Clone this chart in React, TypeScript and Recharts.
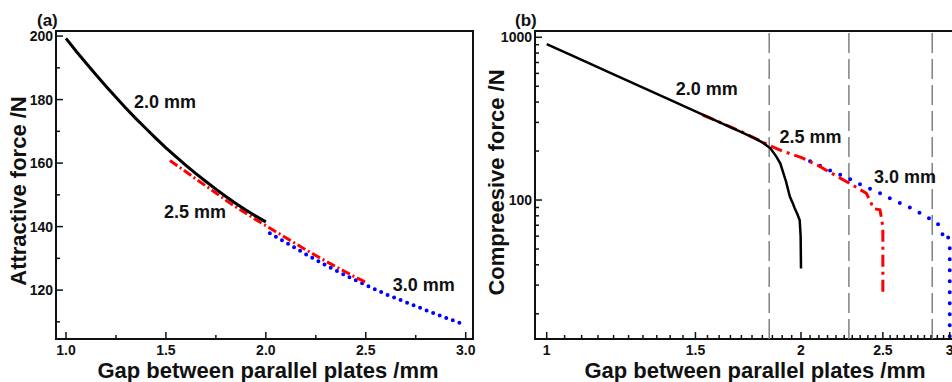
import React from 'react';
import { LineChart, Line, XAxis, YAxis, ReferenceLine, ReferenceArea, ReferenceDot } from 'recharts';

const FONT = '"Liberation Sans", Arial, Helvetica, sans-serif';

// ---------- Panel (a): attractive force ----------
const aGap20 = [1.0, 1.05, 1.1, 1.15, 1.2, 1.25, 1.3, 1.35, 1.4, 1.45, 1.5, 1.55, 1.6, 1.65, 1.7, 1.75, 1.8, 1.85, 1.9, 1.95, 2.0];
const aForce20 = [199.3, 195.3, 191.5, 187.8, 184.2, 180.7, 177.3, 174.0, 170.9, 167.8, 164.8, 162.0, 159.3, 156.7, 154.2, 151.8, 149.5, 147.3, 145.2, 143.3, 141.5];
const aGap25 = [1.52, 1.55, 1.6, 1.65, 1.7, 1.75, 1.8, 1.85, 1.9, 1.95, 2.0, 2.05, 2.1, 2.15, 2.2, 2.25, 2.3, 2.35, 2.4, 2.45, 2.5];
const aForce25 = [160.8, 159.5, 157.3, 155.0, 152.8, 150.6, 148.3, 146.2, 144.2, 142.2, 140.3, 138.4, 136.5, 134.6, 132.7, 130.9, 129.1, 127.4, 125.7, 124.0, 122.5];
const aGap30 = [2.02, 2.1, 2.2, 2.3, 2.4, 2.5, 2.6, 2.7, 2.8, 2.9, 3.0];
const aForce30 = [137.9, 135.0, 131.3, 127.8, 124.6, 121.6, 118.7, 116.2, 113.7, 111.3, 109.0];

const aXTicks = [1.0, 1.25, 1.5, 1.75, 2.0, 2.25, 2.5, 2.75, 3.0];
const aXMajor = [1.0, 1.5, 2.0, 2.5, 3.0];
const aXLabels = ['1.0', '1.5', '2.0', '2.5', '3.0'];
const aYTicks = [110, 120, 130, 140, 150, 160, 170, 180, 190, 200];
const aYMajor = [120, 140, 160, 180, 200];
const aYLabels = ['120', '140', '160', '180', '200'];

// ---------- Panel (b): compressive force ----------
const bGap20 = [1.0, 1.1, 1.2, 1.3, 1.4, 1.5, 1.6, 1.7, 1.76, 1.8, 1.84, 1.87, 1.89, 1.92, 1.94, 1.955, 1.966, 1.98, 1.993, 1.998, 2.0];
const bForce20 = [909, 727, 592, 491, 412, 351, 301, 261, 240, 226, 208, 185, 168, 130, 105, 96, 89, 82, 75, 60, 38];
const bGap25 = [1.53, 1.6, 1.7, 1.8, 1.83, 1.9, 2.0, 2.1, 2.2, 2.265, 2.33, 2.39, 2.43, 2.44, 2.48, 2.49, 2.5, 2.5];
const bForce25 = [333, 302, 263, 228, 218, 200, 183, 162, 141, 129.5, 119, 110, 92, 88.5, 87, 78, 68, 27];
const bGap30 = [2.05, 2.12, 2.184, 2.25, 2.307, 2.37, 2.436, 2.5, 2.561, 2.63, 2.704, 2.78, 2.856, 2.9, 2.922, 2.948, 2.975, 2.99, 3.0, 3.0];
const bForce30 = [173, 160, 149, 140, 131, 122, 115, 108, 101, 95, 89, 82, 75.4, 72, 68, 59.5, 62, 58, 51.6, 12];
const bTransitions = [1.834, 2.279, 2.86];

const bXTicks = [1.0, 1.05, 1.1, 1.15, 1.2, 1.25, 1.3, 1.35, 1.4, 1.45, 1.5, 1.55, 1.6, 1.65, 1.7, 1.75, 1.8, 1.85, 1.9, 1.95, 2.0, 2.05, 2.1, 2.15, 2.2, 2.25, 2.3, 2.35, 2.4, 2.45, 2.5, 2.55, 2.6, 2.65, 2.7, 2.75, 2.8, 2.85, 2.9, 2.95, 3.0];
const bXMajor = [1.0, 1.5, 2.0, 2.5, 3.0];
const bXLabels = ['1', '1.5', '2', '2.5', '3'];
const bYTicks = [20, 30, 40, 50, 60, 70, 80, 90, 100, 200, 300, 400, 500, 600, 700, 800, 900, 1000];
const bYMajor = [100, 1000];
const bYLabels = ['100', '1000'];

type Pt = { x: number; y: number };
const zip = (xs: number[], ys: number[]): Pt[] => xs.map((x, i) => ({ x, y: ys[i] }));

const a20 = zip(aGap20, aForce20);
const a25 = zip(aGap25, aForce25);
const a30 = zip(aGap30, aForce30);
const b20 = zip(bGap20, bForce20);
const b25 = zip(bGap25, bForce25);
const b30 = zip(bGap30, bForce30);

const INK = '#111';

const findMajor = (majors: number[], v: number) => majors.findIndex((m) => Math.abs(m - v) < 1e-6);

const makeXTick = (majors: number[], labels: string[]) => (props: any) => {
  const { x, y, payload } = props;
  const i = findMajor(majors, payload.value);
  const major = i >= 0;
  return (
    <g>
      <line x1={x} y1={y} x2={x} y2={y - (major ? 7 : 4)} stroke={INK} strokeWidth={1.5} />
      {major && (
        <text x={x} y={y + 16} textAnchor="middle" fontSize={14} fontWeight="bold" fontFamily={FONT} fill={INK}>
          {labels[i]}
        </text>
      )}
    </g>
  );
};

const makeYTick = (majors: number[], labels: string[]) => (props: any) => {
  const { x, y, payload } = props;
  const i = findMajor(majors, payload.value);
  const major = i >= 0;
  return (
    <g>
      <line x1={x} y1={y} x2={x + (major ? 7 : 4)} y2={y} stroke={INK} strokeWidth={1.5} />
      {major && (
        <text x={x - 3} y={y + 5} textAnchor="end" fontSize={14} fontWeight="bold" fontFamily={FONT} fill={INK}>
          {labels[i]}
        </text>
      )}
    </g>
  );
};

const xTitle = (text: string, dx: number) => (props: any) => {
  const vb = props.viewBox || { x: 0, y: 0, width: 0, height: 0 };
  return (
    <text x={vb.x + vb.width / 2 + dx} y={378} textAnchor="middle" fontSize={22} fontWeight="bold" fontFamily={FONT} fill={INK}>
      {text}
    </text>
  );
};

const yTitle = (text: string, cxOff: number, cyOff: number) => (props: any) => {
  const vb = props.viewBox || { x: 0, y: 0, width: 0, height: 0 };
  const cx = vb.x + cxOff;
  const cy = vb.y + cyOff;
  return (
    <text
      x={cx}
      y={cy}
      transform={`rotate(-90, ${cx}, ${cy})`}
      textAnchor="middle"
      dominantBaseline="central"
      fontSize={22}
      fontWeight="bold"
      fontFamily={FONT}
      fill={INK}
    >
      {text}
    </text>
  );
};

const annot = (value: string) => ({ value, position: 'center' as const, fontSize: 18, fontWeight: 'bold', fill: INK, fontFamily: FONT });

const aXTick = makeXTick(aXMajor, aXLabels);
const aYTick = makeYTick(aYMajor, aYLabels);
const bXTick = makeXTick(bXMajor, bXLabels);
const bYTick = makeYTick(bYMajor, bYLabels);

const A_X: [number, number] = [0.95, 3.0365];
const A_Y: [number, number] = [104.6, 201.6];
const B_X: [number, number] = [0.9686, 3.085];
const B_Y: [number, number] = [14, 1093];

const panelLabel: React.CSSProperties = {
  position: 'absolute',
  top: 12,
  fontSize: 17,
  fontWeight: 'bold',
  lineHeight: '17px',
  fontFamily: FONT,
  color: INK,
};

export default function App() {
  return (
    <div style={{ position: 'fixed', left: 0, top: 0, width: 952, height: 382, overflow: 'hidden', background: '#fff' }}>
      <div style={{ ...panelLabel, left: 37 }}>(a)</div>
      <div style={{ ...panelLabel, left: 515 }}>(b)</div>

      <div style={{ position: 'absolute', left: 0, top: 0 }}>
        <LineChart width={480} height={382} margin={{ top: 31, right: 7, bottom: 0, left: 0 }}>
          <XAxis
            dataKey="x"
            type="number"
            domain={A_X}
            allowDataOverflow
            ticks={aXTicks}
            interval={0}
            tickSize={0}
            tickMargin={0}
            tick={aXTick}
            axisLine={false}
            tickLine={false}
            height={43}
            label={xTitle('Gap between parallel plates /mm', 3.5)}
          />
          <YAxis
            type="number"
            domain={A_Y}
            allowDataOverflow
            ticks={aYTicks}
            interval={0}
            tickSize={0}
            tickMargin={0}
            tick={aYTick}
            axisLine={false}
            tickLine={false}
            width={56}
            label={yTitle('Attractive force /N', 18.5, 160)}
          />
          <ReferenceArea x1={A_X[0]} x2={A_X[1]} y1={A_Y[0]} y2={A_Y[1]} fill="none" stroke={INK} strokeWidth={2} ifOverflow="visible" />
          <Line data={a30} dataKey="y" type="linear" stroke="#0000ff" strokeWidth={4} strokeDasharray="0 7" strokeLinecap="round" dot={false} isAnimationActive={false} />
          <Line data={a25} dataKey="y" type="linear" stroke="#ff0000" strokeWidth={3} strokeDasharray="9 3 2 3" dot={false} isAnimationActive={false} />
          <Line data={a20} dataKey="y" type="linear" stroke="#000" strokeWidth={3} dot={false} isAnimationActive={false} />
          <ReferenceDot x={1.495} y={179.5} r={0} fill="none" stroke="none" label={annot('2.0 mm')} />
          <ReferenceDot x={1.646} y={144.7} r={0} fill="none" stroke="none" label={annot('2.5 mm')} />
          <ReferenceDot x={2.79} y={121.6} r={0} fill="none" stroke="none" label={annot('3.0 mm')} />
        </LineChart>
      </div>

      <div style={{ position: 'absolute', left: 480, top: 0 }}>
        <LineChart width={480} height={382} margin={{ top: 31, right: 0, bottom: 0, left: 0 }}>
          <XAxis
            dataKey="x"
            type="number"
            scale="log"
            domain={B_X}
            allowDataOverflow
            ticks={bXTicks}
            interval={0}
            tickSize={0}
            tickMargin={0}
            tick={bXTick}
            axisLine={false}
            tickLine={false}
            height={43}
            label={xTitle('Gap between parallel plates /mm', 7.5)}
          />
          <YAxis
            type="number"
            scale="log"
            domain={B_Y}
            allowDataOverflow
            ticks={bYTicks}
            interval={0}
            tickSize={0}
            tickMargin={0}
            tick={bYTick}
            axisLine={false}
            tickLine={false}
            width={55}
            label={yTitle('Compreesive force /N', 16.5, 151.5)}
          />
          <ReferenceArea x1={B_X[0]} x2={B_X[1]} y1={B_Y[0]} y2={B_Y[1]} fill="none" stroke={INK} strokeWidth={2} ifOverflow="visible" />
          {bTransitions.map((t) => (
            <ReferenceLine key={t} x={t} stroke="#808080" strokeWidth={1.5} strokeDasharray="20 6" />
          ))}
          <Line data={b30} dataKey="y" type="linear" stroke="#0000ff" strokeWidth={4} strokeDasharray="0 11" strokeLinecap="round" dot={false} isAnimationActive={false} />
          <Line data={b25} dataKey="y" type="linear" stroke="#ff0000" strokeWidth={3} strokeDasharray="12 5 3 5" dot={false} isAnimationActive={false} />
          <Line data={b20} dataKey="y" type="linear" stroke="#000" strokeWidth={2.5} dot={false} isAnimationActive={false} />
          <ReferenceDot x={1.547} y={486} r={0} fill="none" stroke="none" label={annot('2.0 mm')} />
          <ReferenceDot x={2.053} y={247} r={0} fill="none" stroke="none" label={annot('2.5 mm')} />
          <ReferenceDot x={2.656} y={140} r={0} fill="none" stroke="none" label={annot('3.0 mm')} />
        </LineChart>
      </div>
    </div>
  );
}
